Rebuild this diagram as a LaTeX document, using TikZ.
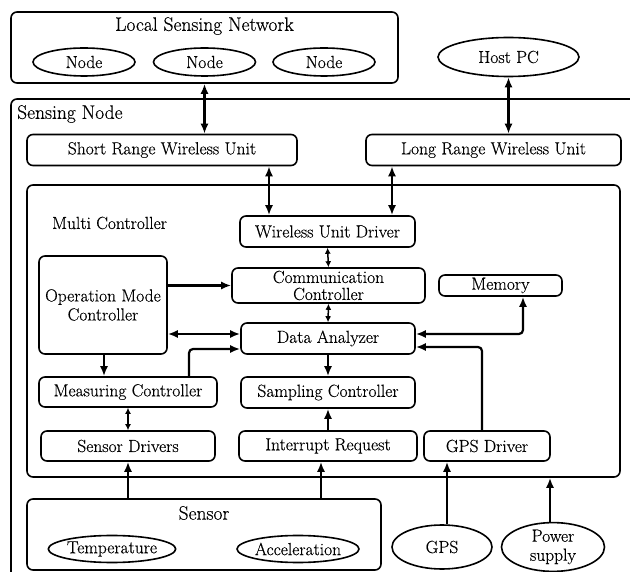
\documentclass[tikz,border=0pt]{standalone}
\usepackage{fontspec}
\setmainfont{Latin Modern Roman}[FakeBold=0.35]
\usetikzlibrary{arrows.meta,shapes.geometric,calc}
\newcommand\bodyfont{\fontsize{17.5}{18}\selectfont}
\newcommand\titlefont{\fontsize{19.5}{21}\selectfont}
\begin{document}
\begin{tikzpicture}[x=1pt,y=-1pt,
  bx/.style n args={2}{draw, line width=1.6pt, rounded corners=6pt, minimum width=#1, minimum height=#2, inner sep=0pt, align=center, font=\bodyfont},
  el/.style n args={2}{draw, ellipse, line width=1.6pt, minimum width=#1, minimum height=#2, inner sep=0pt, align=center, font=\bodyfont},
  arr/.style={line width=2.2pt, -{Latex[length=10pt,width=8pt]}},
  dbl/.style={line width=2.2pt, {Latex[length=10pt,width=8pt]}-{Latex[length=10pt,width=8pt]}},
  sdbl/.style={line width=1.5pt, {Latex[length=6pt,width=6pt]}-{Latex[length=6pt,width=6pt]}},
  lbl/.style={font=\bodyfont, inner sep=0pt},
  ttl/.style={font=\titlefont, inner sep=0pt}
]
\useasboundingbox (0,0) rectangle (630,572);
\clip (0,0) rectangle (630,572);
\fill[white] (0,0) rectangle (630,572);

% Sensing node outer box (clipped)
\draw[line width=1.6pt, rounded corners=6pt] (11,99) rectangle (680,620);
\node[ttl, anchor=west] (snlabel) at (17,114) {Sensing Node};

% Local sensing network
\node[bx={387}{71}] (lsn) at (204.5,47.5) {};
\node[ttl] (lsnt) at (204.5,26) {Local Sensing Network};
\node[el={102}{28}] (n1) at (84,62) {Node};
\node[el={102}{28}] (n2) at (204.5,62) {Node};
\node[el={102}{28}] (n3) at (324,62) {Node};

% Host PC
\node[el={141}{39}] (host) at (508.5,57) {Host PC};

% Wireless units
\node[bx={270}{31}] (srwu) at (162,150) {Short Range Wireless Unit};
\node[bx={255}{31}] (lrwu) at (493.5,150) {Long Range Wireless Unit};

% Multi controller
\node[bx={593}{292}] (mcbox) at (323.5,331) {};
\node[lbl, anchor=west] (mclabel) at (52,223) {Multi Controller};

\node[bx={175}{31}] (wud) at (327.5,231.5) {Wireless Unit Driver};
\node[bx={193}{35}, font=\fontsize{17.5}{17}\selectfont] (cc) at (328.5,285.5) {Communication\\Controller};
\node[bx={123}{21}] (mem) at (500.5,285.5) {Memory};
\node[bx={128}{98}, font=\fontsize{17.5}{19}\selectfont] (omc) at (103,305) {Operation Mode\\Controller};
\node[bx={174}{31}] (da) at (328,338.5) {Data Analyzer};
\node[bx={178}{30}] (meas) at (128,392) {Measuring Controller};
\node[bx={174}{31}] (sc) at (328,392.5) {Sampling Controller};
\node[bx={174}{30}] (sd) at (128,446) {Sensor Drivers};
\node[bx={178}{30}] (ir) at (328,446) {Interrupt Request};
\node[bx={126}{30}] (gpsd) at (487,446) {GPS Driver};

% Sensor
\node[bx={354}{71}] (sensor) at (204,534.5) {};
\node[ttl] (sensort) at (204,513) {Sensor};
\node[el={109}{27}] (temp) at (112,549) {Temperature};
\node[el={104}{27}] (acc) at (298,549) {Acceleration};

% GPS and power
\node[el={100}{44}] (gps) at (442,547) {GPS};
\node[el={103}{44}, font=\fontsize{17.5}{19}\selectfont] (power) at (553,547) {Power\\supply};

% Connectors
\draw[dbl] (lsn.south) -- (lsn.south |- srwu.north);
\draw[dbl] (host.south) -- (host.south |- lrwu.north);
\draw[dbl] ([xshift=-58.5pt]wud.north) -- ([xshift=-58.5pt]wud.north |- srwu.south);
\draw[dbl] ([xshift=64.5pt]wud.north) -- ([xshift=64.5pt]wud.north |- lrwu.south);
\draw[sdbl] (wud.south) -- (cc.north);
\draw[sdbl] (cc.south) -- (da.north);
\draw[arr] (omc.east |- cc.west) -- (cc.west);
\draw[dbl] ([yshift=4.5pt]da.west -| omc.east) -- ([yshift=4.5pt]da.west);
\draw[dbl, rounded corners=4pt] ([yshift=4.5pt]da.east) -| ([xshift=22.5pt]mem.south);
\draw[arr, rounded corners=4pt] ([xshift=-5pt]gpsd.north) |- ([yshift=-8.5pt]da.east);
\draw[arr, rounded corners=4pt] ([xshift=61pt]meas.north) |- ([yshift=-10.5pt]da.west);
\draw[arr] ([xshift=-24pt]meas.north |- omc.south) -- ([xshift=-24pt]meas.north);
\draw[arr] (da.south) -- (sc.north);
\draw[sdbl] (meas.south) -- (sd.north);
\draw[arr] (ir.north) -- (sc.south);
\draw[arr] (sd.south |- sensor.north) -- (sd.south);
\draw[arr] ([xshift=-7pt]ir.south |- sensor.north) -- ([xshift=-7pt]ir.south);
\draw[arr] ([xshift=-40pt]gpsd.south |- gps.north) -- ([xshift=-40pt]gpsd.south);
\draw[arr] ([xshift=-3pt]power.north) -- ([xshift=-3pt]power.north |- mcbox.south);
\end{tikzpicture}
\end{document}
